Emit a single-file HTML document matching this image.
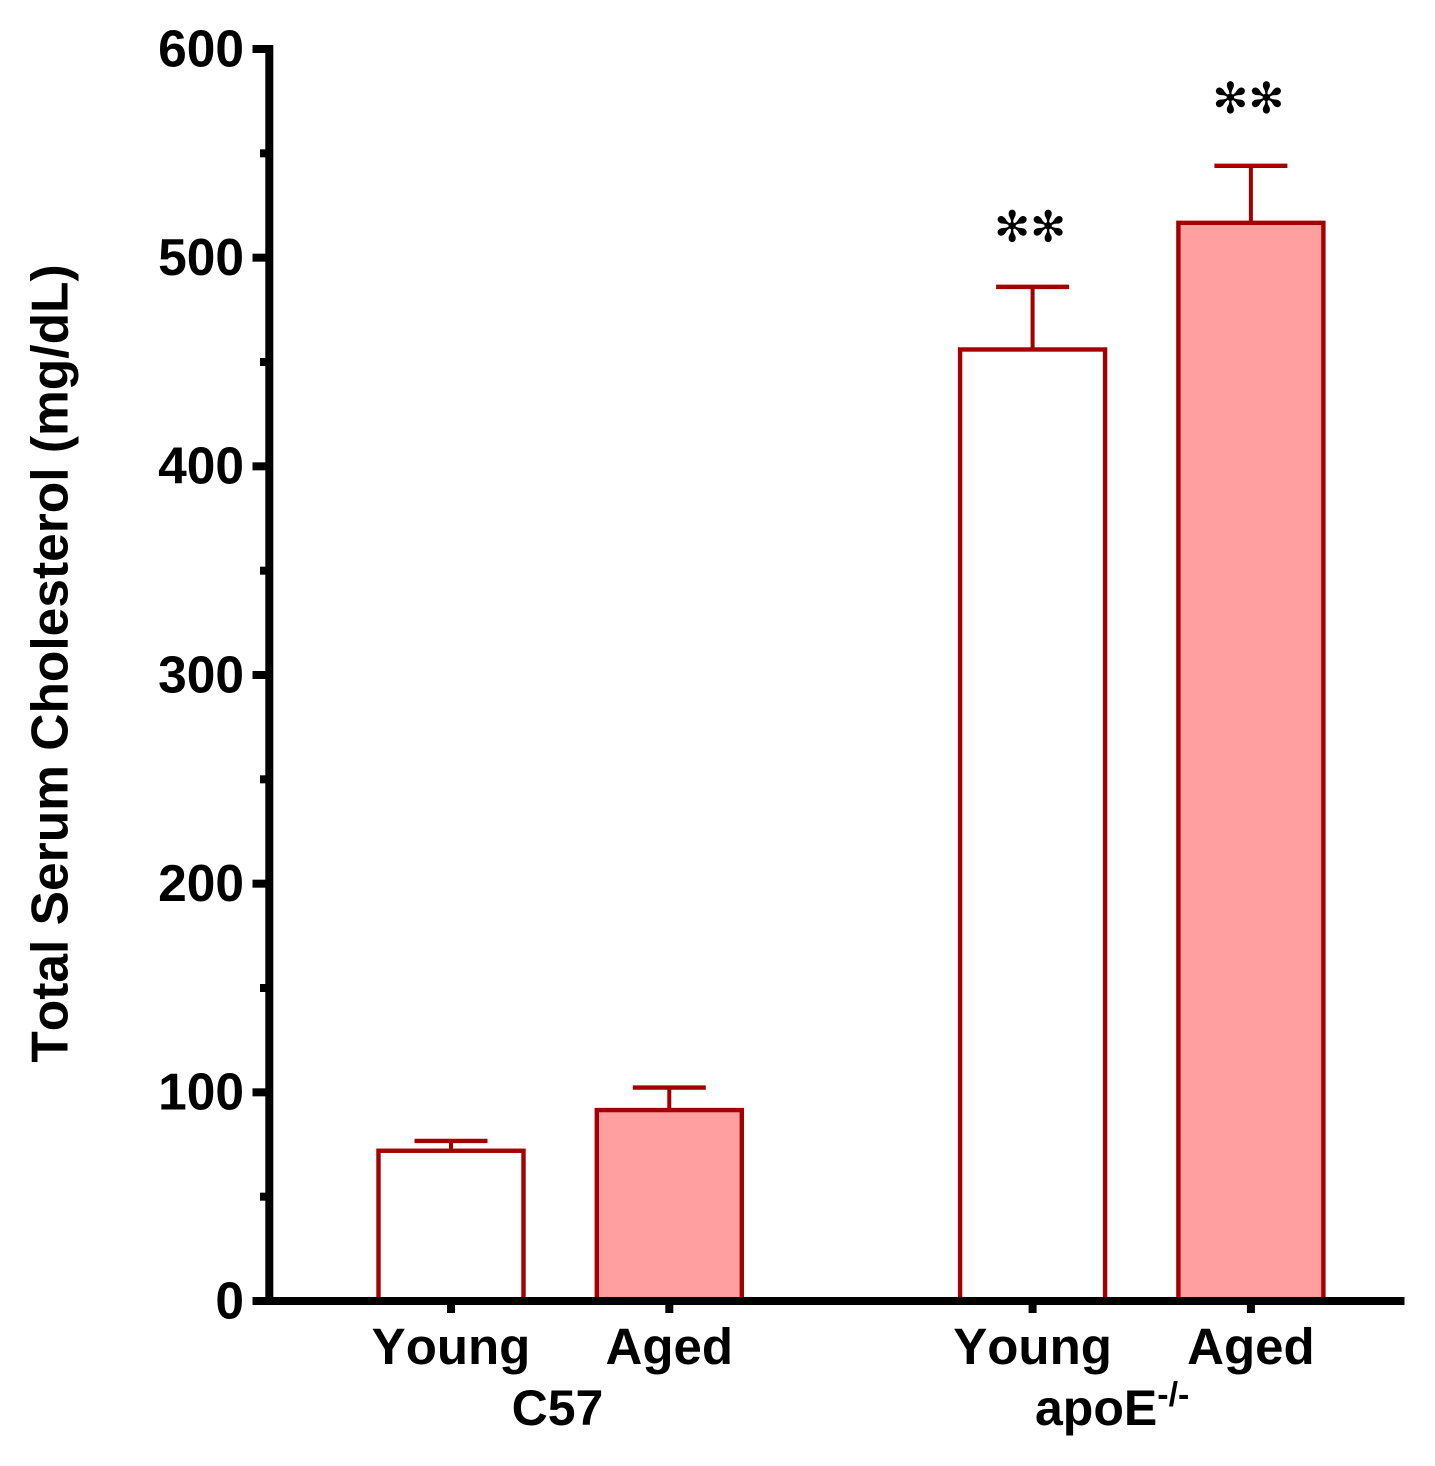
<!DOCTYPE html>
<html lang="en">
<head>
<meta charset="utf-8">
<title>Total Serum Cholesterol</title>
<style>
html,body{margin:0;padding:0;background:#fff;width:1435px;height:1466px;overflow:hidden}
svg{display:block}
text{font-family:"Liberation Sans",Arial,sans-serif;font-weight:bold;fill:#000;font-kerning:none}
</style>
</head>
<body>
<svg id="chart" width="1435" height="1466" viewBox="0 0 1435 1466" xmlns="http://www.w3.org/2000/svg">
  <text transform="translate(67.5,663.5) rotate(-90)" text-anchor="middle" font-size="51.5">Total Serum Cholesterol (mg/dL)</text>
  <text x="557.5" y="1425" text-anchor="middle" font-size="50">C57</text>
  <text x="1035" y="1425" font-size="50">apoE<tspan font-size="34" dy="-19">-/-</tspan></text>
</svg>
<script>
const categories = ['Young', 'Aged', 'Young', 'Aged'];
const groups = ['C57', 'C57', 'apoE', 'apoE'];
const means = [72, 91.5, 456, 516.7];
const errorTops = [76.7, 102.3, 486, 544];
const filled = [false, true, false, true];
const significance = ['', '', '**', '**'];
const significanceLevels = [0, 0, 507.7, 569.3];
const yTicks = [0, 100, 200, 300, 400, 500, 600];

const svg = document.getElementById('chart');
const NS = 'http://www.w3.org/2000/svg';
const RED = '#a30000';
const PINK = '#ff9f9f';
const yScale = v => 1301 - v * (1301 - 49) / 600;
const xScale = i => 451 + i * 218.3 + (i >= 2 ? 145 : 0);
const BAR_W = 145;
const CAP_W = 73;

function make(tag, attrs) {
  const el = document.createElementNS(NS, tag);
  Object.keys(attrs).forEach(k => el.setAttribute(k, attrs[k]));
  svg.appendChild(el);
  return el;
}

means.forEach((m, i) => {
  const cx = xScale(i);
  const top = yScale(m);
  const capY = yScale(errorTops[i]);
  const slug = groups[i].toLowerCase() + '-' + categories[i].toLowerCase();

  const stem = make('line', {x1: cx, x2: cx, y1: capY, y2: top, stroke: RED, 'stroke-width': 4});
  
  

  const cap = make('line', {x1: cx - CAP_W / 2, x2: cx + CAP_W / 2, y1: capY, y2: capY, stroke: RED, 'stroke-width': 4.4});
  
  

  const bar = make('rect', {x: cx - BAR_W / 2, y: top, width: BAR_W, height: yScale(0) - top, fill: filled[i] ? PINK : '#fff', stroke: RED, 'stroke-width': 4.4});
  
  

  const label = make('text', {x: cx, y: 1364, 'text-anchor': 'middle', 'font-size': 51});
  label.textContent = categories[i];
  
  

  const tick = make('rect', {x: cx - 4, y: 1301, width: 8, height: 12, fill: '#000'});
  
  

  if (significance[i]) {
    const star = make('text', {x: cx - 2.5, y: yScale(significanceLevels[i]), 'text-anchor': 'middle', 'font-size': 43});
    star.textContent = significance[i].replace(/\*/g, '\u273B');
    star.style.fontFamily = '"DejaVu Sans",sans-serif';
    star.style.fontWeight = 'normal';
    
    
  }
});

yTicks.forEach((t, i) => {
  const y = yScale(t);
  const tick = make('rect', {x: 252.5, y: y - 4, width: 17, height: 8, fill: '#000'});
  
  

  const label = make('text', {x: 244, y: y + 17.3, 'text-anchor': 'end', 'font-size': 51.5});
  label.textContent = t;
  
  

  if (i < yTicks.length - 1) {
    const minorY = yScale((t + yTicks[i + 1]) / 2);
    const minor = make('rect', {x: 260, y: minorY - 4, width: 10, height: 8, fill: '#000'});
    
    
  }
});

const yAxis = make('rect', {x: 265.3, y: 45, width: 8, height: 1260, fill: '#000'});



const xAxis = make('rect', {x: 252.5, y: 1297, width: 1152, height: 8, fill: '#000'});


</script>
</body>
</html>
